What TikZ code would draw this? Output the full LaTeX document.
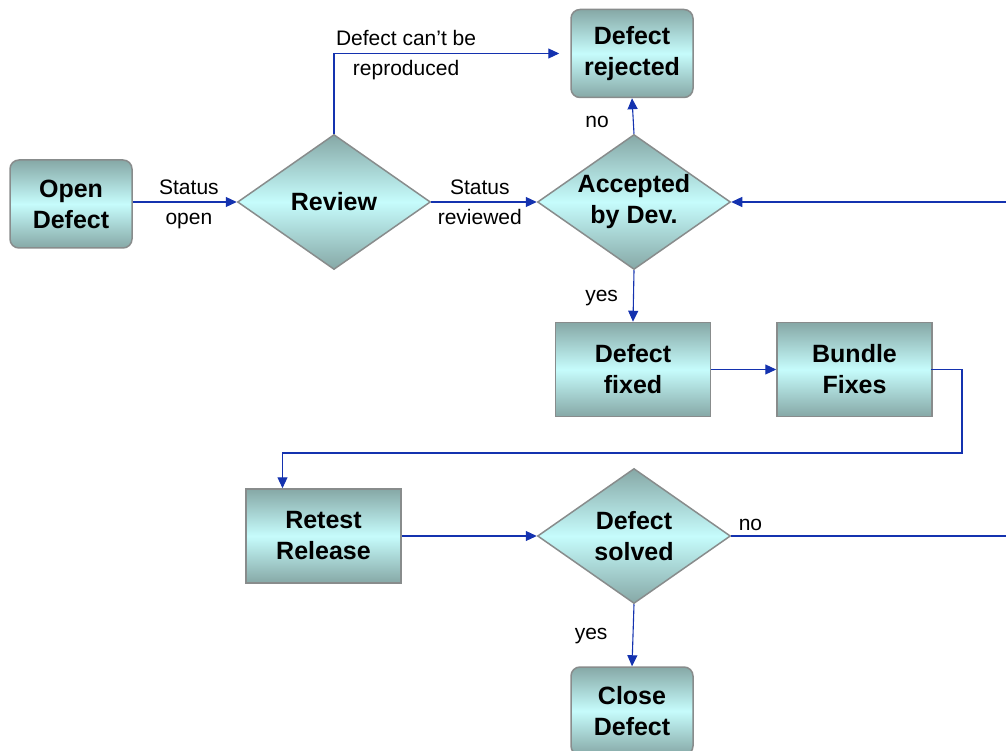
\documentclass[tikz,border=0pt]{standalone}
\usepackage{fontspec}
\setmainfont{Liberation Sans}
\usetikzlibrary{shapes.geometric}
\usetikzlibrary{arrows.meta}

\definecolor{boxedge}{RGB}{136,140,140}
\definecolor{boxdark}{RGB}{134,168,166}
\definecolor{boxlight}{RGB}{198,252,252}
\definecolor{flowblue}{RGB}{20,50,175}

\begin{document}
\begin{tikzpicture}[x=1pt, y=-1pt,
    box/.style={draw=boxedge, line width=1.5pt, top color=boxdark, bottom color=boxdark, middle color=boxlight,
        align=center, font=\fontsize{25}{31}\selectfont\bfseries},
    terminal/.style={box, rounded corners=9pt, minimum width=122pt, minimum height=88pt},
    task/.style={box, minimum width=155pt, minimum height=94pt},
    decision/.style={box, diamond, aspect=1.43, inner sep=0pt, minimum width=193pt, minimum height=135pt},
    flow/.style={draw=flowblue, line width=1.1pt, -{Triangle[length=11pt,width=10pt]}},
    lbl/.style={font=\fontsize{21}{29}\selectfont, inner sep=2pt, text height=15.5pt, text depth=5pt}]
    \useasboundingbox (0,0) rectangle (1006,751);

    % boxes and decisions
    \node[terminal] (open) at (71,204) {Open\\Defect};
    \node[decision] (review) at (334,202) {Review};
    \node[decision] (accepted) at (634,202) {Accepted\\by Dev.};
    \node[terminal] (rejected) at (632,53.5) {Defect\\rejected};
    \node[task] (fixed) at (633,369.5) {Defect\\fixed};
    \node[task] (bundle) at (854.5,369.5) {Bundle\\Fixes};
    \node[task] (retest) at (323.5,536) {Retest\\Release};
    \node[decision] (solved) at (634,536) {Defect\\solved};
    \node[terminal] (close) at (632,711) {Close\\Defect};

    % loose ends at the right border
    \coordinate (backin) at (1006,202);
    \coordinate (backout) at (1006,536);
    \coordinate (bend) at (962,453);

    % connectors
    \draw[flow] (open.east |- review) -- node[lbl, above, pos=.54]{Status} node[lbl, below=4pt, pos=.54]{open} (review);
    \draw[flow] (review) -- node[lbl, above, pos=.46]{Status} node[lbl, below=4pt, pos=.46]{reviewed} (accepted);
    \draw[flow] (review.north) |- node[lbl, above, pos=.66]{Defect can’t be} node[lbl, below=4pt, pos=.66]{reproduced}
        ([xshift=-11pt]rejected.west);
    \draw[flow] (accepted.north) -- node[lbl, left=22pt, pos=.32]{no} (rejected.south);
    \draw[flow] (accepted.south) -- node[lbl, left=13pt, pos=.5]{yes} (fixed.north);
    \draw[flow] (fixed) -- (bundle);
    \draw[flow] ([xshift=-2pt]bundle.east) -| (bend) -| ([xshift=-41pt]retest.north);
    \draw[flow] (retest) -- (solved);
    \draw[flow, -] (solved.east) -- node[lbl, above right, pos=0, xshift=5pt, yshift=-2pt]{no} (backout);
    \draw[flow] (backin) -- (accepted.east);
    \draw[flow] (solved.south) -- node[lbl, left=23pt, pos=.48]{yes} (close.north);
\end{tikzpicture}
\end{document}
